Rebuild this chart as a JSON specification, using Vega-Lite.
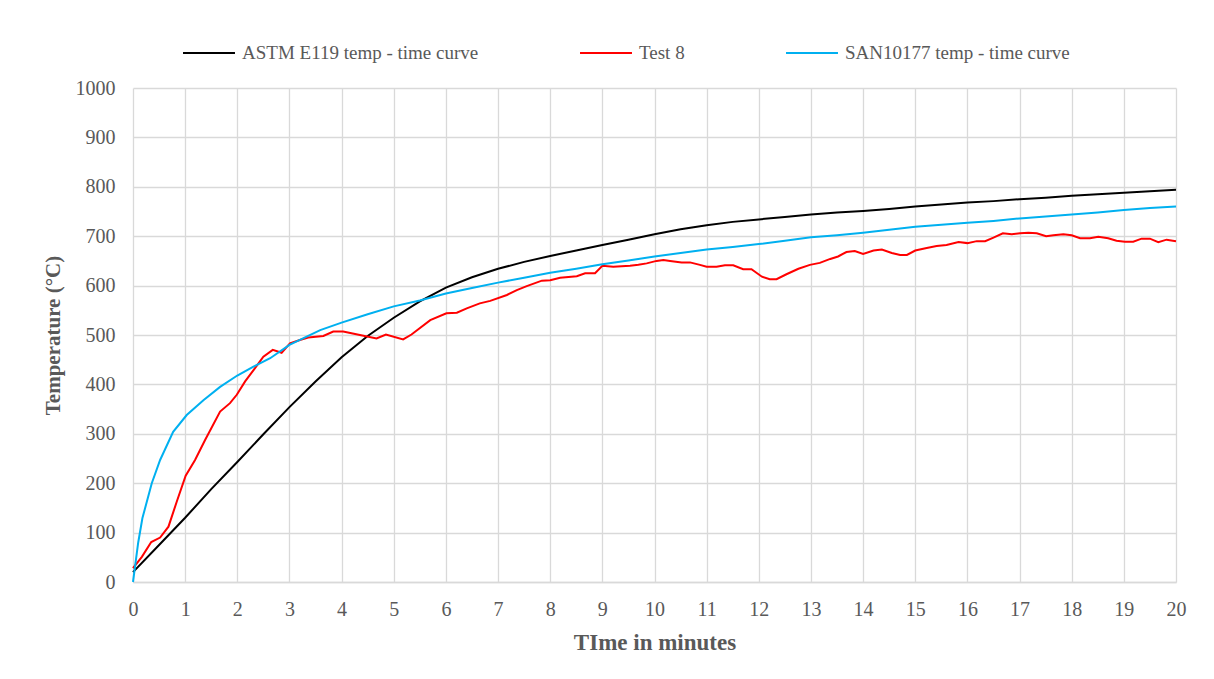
{
  "$schema": "https://vega.github.io/schema/vega-lite/v6.json",
  "width": 1043,
  "height": 494,
  "autosize": {"type": "none"},
  "padding": {"left": 133, "top": 88, "right": 38, "bottom": 97},
  "background": "#ffffff",
  "config": {
    "view": {"stroke": null},
    "font": "Times New Roman, Liberation Serif, serif",
    "axis": {"labelFont": "Times New Roman, Liberation Serif, serif", "titleFont": "Times New Roman, Liberation Serif, serif"},
    "legend": {"labelFont": "Times New Roman, Liberation Serif, serif", "titleFont": "Times New Roman, Liberation Serif, serif"}
  },
  "datasets": {
    "astm": [
      {"t": 0, "temp": 20}, {"t": 0.5, "temp": 75}, {"t": 1, "temp": 130}, {"t": 1.5, "temp": 188},
      {"t": 2, "temp": 243}, {"t": 2.5, "temp": 299}, {"t": 3, "temp": 354}, {"t": 3.5, "temp": 406},
      {"t": 4, "temp": 455}, {"t": 4.5, "temp": 498}, {"t": 5, "temp": 535}, {"t": 5.5, "temp": 568},
      {"t": 6, "temp": 596}, {"t": 6.5, "temp": 617}, {"t": 7, "temp": 634}, {"t": 7.5, "temp": 648},
      {"t": 8, "temp": 660}, {"t": 8.5, "temp": 671}, {"t": 9, "temp": 682}, {"t": 9.5, "temp": 693},
      {"t": 10, "temp": 704}, {"t": 10.5, "temp": 714}, {"t": 11, "temp": 722}, {"t": 11.5, "temp": 729},
      {"t": 12, "temp": 734}, {"t": 12.5, "temp": 739}, {"t": 13, "temp": 744}, {"t": 13.5, "temp": 748},
      {"t": 14, "temp": 751}, {"t": 14.5, "temp": 755}, {"t": 15, "temp": 760}, {"t": 15.5, "temp": 764},
      {"t": 16, "temp": 768}, {"t": 16.5, "temp": 771}, {"t": 17, "temp": 775}, {"t": 17.5, "temp": 778},
      {"t": 18, "temp": 782}, {"t": 18.5, "temp": 785}, {"t": 19, "temp": 788}, {"t": 19.5, "temp": 791},
      {"t": 20, "temp": 794}
    ],
    "test8": [
      {"t": 0, "temp": 28}, {"t": 0.17, "temp": 51}, {"t": 0.35, "temp": 81}, {"t": 0.52, "temp": 90},
      {"t": 0.68, "temp": 112}, {"t": 0.84, "temp": 163}, {"t": 1.01, "temp": 215}, {"t": 1.19, "temp": 247},
      {"t": 1.38, "temp": 287}, {"t": 1.67, "temp": 345}, {"t": 1.86, "temp": 362}, {"t": 1.99, "temp": 379},
      {"t": 2.15, "temp": 406}, {"t": 2.34, "temp": 433}, {"t": 2.5, "temp": 456}, {"t": 2.68, "temp": 470},
      {"t": 2.85, "temp": 464}, {"t": 3.01, "temp": 483}, {"t": 3.2, "temp": 490}, {"t": 3.36, "temp": 495},
      {"t": 3.65, "temp": 498}, {"t": 3.84, "temp": 507}, {"t": 4.03, "temp": 507}, {"t": 4.35, "temp": 500},
      {"t": 4.67, "temp": 493}, {"t": 4.85, "temp": 501}, {"t": 5.18, "temp": 491}, {"t": 5.34, "temp": 501},
      {"t": 5.7, "temp": 530}, {"t": 6.01, "temp": 544}, {"t": 6.21, "temp": 545}, {"t": 6.4, "temp": 554},
      {"t": 6.65, "temp": 564}, {"t": 6.85, "temp": 569}, {"t": 7.17, "temp": 581}, {"t": 7.36, "temp": 591},
      {"t": 7.55, "temp": 599}, {"t": 7.84, "temp": 610}, {"t": 8.0, "temp": 611}, {"t": 8.19, "temp": 616},
      {"t": 8.51, "temp": 619}, {"t": 8.67, "temp": 625}, {"t": 8.86, "temp": 625}, {"t": 9.0, "temp": 640},
      {"t": 9.21, "temp": 638}, {"t": 9.53, "temp": 640}, {"t": 9.69, "temp": 642}, {"t": 9.85, "temp": 645},
      {"t": 10.04, "temp": 650}, {"t": 10.17, "temp": 652}, {"t": 10.3, "temp": 650}, {"t": 10.52, "temp": 647},
      {"t": 10.68, "temp": 647}, {"t": 10.87, "temp": 642}, {"t": 11.0, "temp": 638}, {"t": 11.19, "temp": 638},
      {"t": 11.35, "temp": 641}, {"t": 11.51, "temp": 641}, {"t": 11.7, "temp": 633}, {"t": 11.86, "temp": 633},
      {"t": 12.06, "temp": 618}, {"t": 12.21, "temp": 613}, {"t": 12.34, "temp": 613}, {"t": 12.53, "temp": 623},
      {"t": 12.76, "temp": 634}, {"t": 12.98, "temp": 642}, {"t": 13.17, "temp": 646}, {"t": 13.37, "temp": 654},
      {"t": 13.52, "temp": 659}, {"t": 13.68, "temp": 668}, {"t": 13.84, "temp": 670}, {"t": 14.0, "temp": 664},
      {"t": 14.2, "temp": 671}, {"t": 14.36, "temp": 673}, {"t": 14.55, "temp": 666}, {"t": 14.71, "temp": 662},
      {"t": 14.84, "temp": 662}, {"t": 15.0, "temp": 671}, {"t": 15.22, "temp": 676}, {"t": 15.41, "temp": 680},
      {"t": 15.6, "temp": 682}, {"t": 15.83, "temp": 688}, {"t": 16.0, "temp": 686}, {"t": 16.18, "temp": 690},
      {"t": 16.34, "temp": 690}, {"t": 16.5, "temp": 697}, {"t": 16.68, "temp": 706}, {"t": 16.85, "temp": 704},
      {"t": 17.01, "temp": 706}, {"t": 17.17, "temp": 707}, {"t": 17.33, "temp": 706}, {"t": 17.51, "temp": 700},
      {"t": 17.65, "temp": 702}, {"t": 17.84, "temp": 704}, {"t": 18.0, "temp": 702}, {"t": 18.16, "temp": 696},
      {"t": 18.35, "temp": 696}, {"t": 18.51, "temp": 699}, {"t": 18.7, "temp": 696}, {"t": 18.86, "temp": 691},
      {"t": 19.02, "temp": 689}, {"t": 19.18, "temp": 689}, {"t": 19.34, "temp": 695}, {"t": 19.5, "temp": 695},
      {"t": 19.66, "temp": 688}, {"t": 19.82, "temp": 693}, {"t": 20.0, "temp": 690}
    ],
    "san": [
      {"t": 0, "temp": 0}, {"t": 0.1, "temp": 80}, {"t": 0.18, "temp": 129}, {"t": 0.36, "temp": 200},
      {"t": 0.52, "temp": 247}, {"t": 0.77, "temp": 304}, {"t": 1.03, "temp": 338}, {"t": 1.35, "temp": 368},
      {"t": 1.67, "temp": 395}, {"t": 2, "temp": 418}, {"t": 2.31, "temp": 436}, {"t": 2.63, "temp": 453},
      {"t": 3, "temp": 480}, {"t": 3.59, "temp": 510}, {"t": 4, "temp": 525}, {"t": 4.5, "temp": 542},
      {"t": 5, "temp": 558}, {"t": 5.5, "temp": 570}, {"t": 6, "temp": 584}, {"t": 6.5, "temp": 595},
      {"t": 7, "temp": 606}, {"t": 7.5, "temp": 616}, {"t": 8, "temp": 626}, {"t": 8.5, "temp": 634},
      {"t": 9, "temp": 643}, {"t": 9.5, "temp": 651}, {"t": 10, "temp": 659}, {"t": 10.5, "temp": 666},
      {"t": 11, "temp": 673}, {"t": 11.5, "temp": 678}, {"t": 12, "temp": 684}, {"t": 12.5, "temp": 691},
      {"t": 13, "temp": 698}, {"t": 13.5, "temp": 702}, {"t": 14, "temp": 707}, {"t": 14.5, "temp": 713},
      {"t": 15, "temp": 719}, {"t": 15.5, "temp": 723}, {"t": 16, "temp": 727}, {"t": 16.5, "temp": 731},
      {"t": 17, "temp": 736}, {"t": 17.5, "temp": 740}, {"t": 18, "temp": 744}, {"t": 18.5, "temp": 748},
      {"t": 19, "temp": 753}, {"t": 19.5, "temp": 757}, {"t": 20, "temp": 760}
    ]
  },
  "encoding": {
    "x": {
      "field": "t", "type": "quantitative",
      "scale": {"domain": [0, 20], "nice": false},
      "axis": {
        "title": "TIme in minutes",
        "values": [0,1,2,3,4,5,6,7,8,9,10,11,12,13,14,15,16,17,18,19,20],
        "format": "d",
        "labelFlush": false,
        "labelOverlap": false,
        "grid": true, "gridColor": "#d9d9d9", "gridWidth": 1.3,
        "domain": true, "domainColor": "#d9d9d9", "domainWidth": 1.3,
        "ticks": false,
        "labelFont": "Times New Roman, Liberation Serif, serif", "labelFontSize": 20, "labelColor": "#595959", "labelPadding": 17,
        "titleFont": "Times New Roman, Liberation Serif, serif", "titleFontSize": 23, "titleFontWeight": "bold", "titleColor": "#595959", "titlePadding": 12
      }
    },
    "y": {
      "field": "temp", "type": "quantitative",
      "scale": {"domain": [0, 1000], "nice": false},
      "axis": {
        "title": "Temperature (°C)",
        "values": [0,100,200,300,400,500,600,700,800,900,1000],
        "format": "d",
        "labelFlush": false,
        "labelOverlap": false,
        "grid": true, "gridColor": "#d9d9d9", "gridWidth": 1.3,
        "domain": false,
        "ticks": false,
        "labelFont": "Times New Roman, Liberation Serif, serif", "labelFontSize": 20, "labelColor": "#595959", "labelPadding": 18,
        "titleFont": "Times New Roman, Liberation Serif, serif", "titleFontSize": 21, "titleFontWeight": "bold", "titleColor": "#595959", "titlePadding": 12
      }
    },
    "color": {
      "field": "series", "type": "nominal",
      "scale": {
        "domain": ["ASTM E119 temp - time curve", "Test 8", "SAN10177 temp - time curve"],
        "range": ["#000000", "#ff0000", "#00b0f0"]
      },
      "legend": {
        "title": null,
        "orient": "none",
        "direction": "horizontal",
        "legendX": 49,
        "legendY": -62,
        "padding": 0,
        "symbolType": "stroke",
        "symbolSize": 2700,
        "symbolStrokeWidth": 2,
        "labelFont": "Times New Roman, Liberation Serif, serif",
        "labelFontSize": 19,
        "labelColor": "#595959",
        "labelOffset": 6,
        "columnPadding": 97,
        "labelLimit": 400
      }
    }
  },
  "layer": [
    {
      "data": {"name": "astm"},
      "transform": [{"calculate": "'ASTM E119 temp - time curve'", "as": "series"}],
      "mark": {"type": "line", "strokeWidth": 2}
    },
    {
      "data": {"name": "test8"},
      "transform": [{"calculate": "'Test 8'", "as": "series"}],
      "mark": {"type": "line", "strokeWidth": 2}
    },
    {
      "data": {"name": "san"},
      "transform": [{"calculate": "'SAN10177 temp - time curve'", "as": "series"}],
      "mark": {"type": "line", "strokeWidth": 2}
    }
  ]
}
